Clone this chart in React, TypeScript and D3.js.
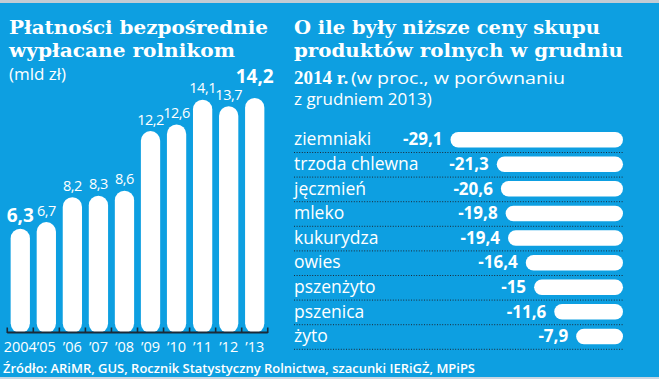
import React from "react";
import * as d3 from "d3";

// ---- Data ----
const years = ["2004", "’05", "’06", "’07", "’08", "’09", "’10", "’11", "’12", "’13"];
const payments = [6.3, 6.7, 8.2, 8.3, 8.6, 12.2, 12.6, 14.1, 13.7, 14.2];
const paymentLabels = ["6,3", "6,7", "8,2", "8,3", "8,6", "12,2", "12,6", "14,1", "13,7", "14,2"];
const paymentBold = [true, false, false, false, false, false, false, false, false, true];

const products = ["ziemniaki", "trzoda chlewna", "jęczmień", "mleko", "kukurydza", "owies", "pszenżyto", "pszenica", "żyto"];
const priceDrop = [29.1, 21.3, 20.6, 19.8, 19.4, 16.4, 15, 11.6, 7.9];
const priceLabels = ["-29,1", "-21,3", "-20,6", "-19,8", "-19,4", "-16,4", "-15", "-11,6", "-7,9"];

const leftTitle = ["Płatności bezpośrednie", "wypłacane rolnikom"];
const leftUnit = "(mld zł)";
const rightTitle = ["O ile były niższe ceny skupu", "produktów rolnych w grudniu"];
const rightTitleBold3 = "2014 r.";
const rightSub3 = "(w proc., w porównaniu";
const rightSub4 = "z grudniem 2013)";
const source = "Źródło: ARiMR, GUS, Rocznik Statystyczny Rolnictwa, szacunki IERiGŻ, MPiPS";

const W = 659;
const H = 379;
const BLUE = "#0d9fe1";
const DARK = "#1b2a38";
const SERIF = "'DejaVu Serif', serif";
const SERIF2 = "'Liberation Serif', serif";
const SANS = "'Open Sans', sans-serif";

export default function App() {
  // Left chart scales
  const x = d3.scaleBand<string>().domain(years).range([7, 268]).paddingInner(0.26).paddingOuter(0.14);
  const y = d3.scaleLinear().domain([0, 14.2]).range([333, 98]);
  const bw = x.bandwidth();
  const gap = x.step() - bw;
  const tickXs = years.map((d) => (x(d) as number) - gap / 2);
  tickXs.push((x(years[years.length - 1]) as number) + bw + gap / 2);

  // Right chart scales
  const xr = d3.scaleLinear().domain([0, 29.1]).range([623, 450.5]);
  const yr = d3.scaleBand<string>().domain(products).range([128.4, 128.4 + 24.6 * products.length]);
  const step = yr.step();

  return (
    <svg width={W} height={H} style={{ position: "absolute", left: 0, top: 0, display: "block" }}>
      <rect x={0} y={0} width={W} height={H} fill={BLUE} />
      <rect x={0} y={0} width={W} height={3} fill="#c3ccd4" />
      <rect x={0} y={377} width={W} height={2} fill="#c8d6e2" />

      {/* Left title */}
      <text x={9} y={33.5} fill="#fff" fontFamily={SERIF} fontWeight={700} fontSize={18} textLength={259} lengthAdjust="spacingAndGlyphs">{leftTitle[0]}</text>
      <text x={9} y={57} fill="#fff" fontFamily={SERIF} fontWeight={700} fontSize={18} textLength={226} lengthAdjust="spacingAndGlyphs">{leftTitle[1]}</text>
      <text x={9} y={79.5} fill="#fff" fontFamily={SANS} fontSize={17}>{leftUnit}</text>

      {/* Left bars */}
      {payments.map((v, i) => (
        <rect key={years[i]} x={x(years[i])} y={y(v)} width={bw} height={y(0) - y(v)} rx={bw / 2} ry={bw / 2} fill="#fff" />
      ))}
      {payments.map((v, i) => (
        <text
          key={"l" + i}
          x={(x(years[i]) as number) + bw / 2}
          y={y(v) - (i === payments.length - 1 ? 15 : 6.5)}
          textAnchor="middle"
          fill="#fff"
          fontFamily={SANS}
          fontWeight={paymentBold[i] ? 700 : 400}
          fontSize={paymentBold[i] ? 19 : 14.5}
          letterSpacing={paymentBold[i] ? 0 : -0.5}
        >
          {paymentLabels[i]}
        </text>
      ))}
      <line x1={tickXs[0]} x2={tickXs[tickXs.length - 1]} y1={332.5} y2={332.5} stroke={DARK} strokeWidth={2} />
      {tickXs.map((t, i) => (
        <line key={"t" + i} x1={t} x2={t} y1={327.5} y2={333} stroke={DARK} strokeWidth={1.6} />
      ))}
      {years.map((yv) => (
        <text key={"y" + yv} x={(x(yv) as number) + bw / 2} y={351.5} textAnchor="middle" fill="#fff" fontFamily={SANS} fontSize={14.5}>
          {yv}
        </text>
      ))}

      {/* Right title */}
      <text x={294} y={34} fill="#fff" fontFamily={SERIF} fontWeight={700} fontSize={18} textLength={306} lengthAdjust="spacingAndGlyphs">{rightTitle[0]}</text>
      <text x={294} y={57} fill="#fff" fontFamily={SERIF} fontWeight={700} fontSize={18} textLength={329} lengthAdjust="spacingAndGlyphs">{rightTitle[1]}</text>
      <text x={294} y={84} fill="#fff" fontFamily={SERIF2} fontWeight={700} fontSize={19}>{rightTitleBold3}</text>
      <text x={351} y={84} fill="#fff" fontFamily={SANS} fontSize={16.5} textLength={214} lengthAdjust="spacingAndGlyphs">{rightSub3}</text>
      <text x={294} y={104.5} fill="#fff" fontFamily={SANS} fontSize={17}>{rightSub4}</text>

      {/* Right rows */}
      {products.map((p, i) => {
        const top = yr(p) as number;
        return (
          <g key={p}>
            <line x1={294} x2={623} y1={top + step - 0.5} y2={top + step - 0.5} stroke={DARK} strokeWidth={1} strokeDasharray="1,1.6" />
            <text x={294} y={top + 17} fill="#fff" fontFamily={SANS} fontSize={17.5}>{p}</text>
            <rect x={xr(priceDrop[i])} y={top + 3.5} width={xr(0) - xr(priceDrop[i])} height={15.5} rx={7.75} ry={7.75} fill="#fff" />
            <text x={xr(priceDrop[i]) - 8} y={top + 17} textAnchor="end" fill="#fff" fontFamily={SANS} fontWeight={700} fontSize={17}>
              {priceLabels[i]}
            </text>
          </g>
        );
      })}

      {/* Source */}
      <text x={3} y={373} fill="#fff" fontFamily={SANS} fontWeight={600} fontSize={12.5} textLength={472} lengthAdjust="spacingAndGlyphs">{source}</text>
    </svg>
  );
}
